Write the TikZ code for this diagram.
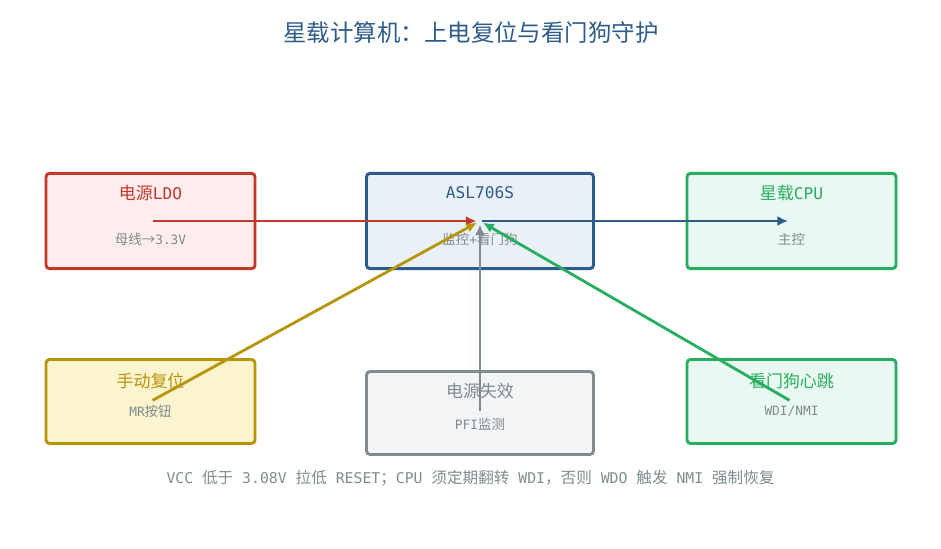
\documentclass[tikz,border=0pt]{standalone}
\usepackage{fontspec}
\setmainfont{Noto Sans CJK SC}
\newfontfamily\lat{DejaVu Sans Mono}[Scale=0.95]
\usepackage{tikz}
\usetikzlibrary{arrows,arrows.meta}

\definecolor{ldored}{HTML}{C0392B}
\definecolor{ldofill}{HTML}{FDEDEC}
\definecolor{aslblue}{HTML}{2E5C8A}
\definecolor{aslfill}{HTML}{EAF0F8}
\definecolor{cpugreen}{HTML}{27AE60}
\definecolor{cpufill}{HTML}{E9F8F0}
\definecolor{mrgold}{HTML}{B7950B}
\definecolor{mrfill}{HTML}{FCF3CF}
\definecolor{pfigray}{HTML}{7F8C8D}
\definecolor{pfifill}{HTML}{F2F4F5}

\begin{document}
\begin{tikzpicture}[x=0.03cm,y=-0.03cm,>={Latex[length=9pt,width=8.5pt]}]
\tikzstyle{blk}=[draw,line width=2.5pt,rounded corners=3pt,inner sep=0pt]
\tikzstyle{ttl}=[font=\fontsize{14.5}{16}\selectfont]
\tikzstyle{sub}=[font=\fontsize{11.5}{13}\selectfont,text=pfigray]
\tikzstyle{sig}=[->,line width=2.4pt,shorten <=2pt,shorten >=3pt]

\useasboundingbox (0,0) rectangle (941,548);

\node[font=\fontsize{20}{23}\selectfont,text=aslblue] (TITLE) at (471,33) {星载计算机：上电复位与看门狗守护};

% boxes
\node[blk,draw=ldored,fill=ldofill,minimum width=6.27cm,minimum height=2.86cm] (LDO) at (150.5,221) {};
\node[blk,draw=aslblue,fill=aslfill,minimum width=6.81cm,minimum height=2.86cm] (ASL) at (480,221) {};
\node[blk,draw=cpugreen,fill=cpufill,minimum width=6.27cm,minimum height=2.86cm] (CPU) at (791.5,221) {};
\node[blk,draw=mrgold,fill=mrfill,minimum width=6.27cm,minimum height=2.52cm] (MR) at (150.5,401.5) {};
\node[blk,draw=pfigray,fill=pfifill,minimum width=6.81cm,minimum height=2.49cm] (PFI) at (480,413) {};
\node[blk,draw=cpugreen,fill=cpufill,minimum width=6.27cm,minimum height=2.52cm] (WDI) at (791.5,401.5) {};

% texts
\node[ttl,text=ldored] (LDOt) at (150.5,193) {电源{\lat LDO}};
\node[sub] (LDOs) at (150.5,239) {母线→{\lat 3.3V}};
\node[ttl,text=aslblue] (ASLt) at (480,193) {\lat ASL706S};
\node[sub] (ASLs) at (480,239) {监控{\lat +}看门狗};
\node[ttl,text=cpugreen] (CPUt) at (791.5,193) {星载{\lat CPU}};
\node[sub] (CPUs) at (791.5,239) {主控};
\node[ttl,text=mrgold] (MRt) at (150.5,381) {手动复位};
\node[sub] (MRs) at (150.5,411) {{\lat MR}按钮};
\node[ttl,text=pfigray] (PFIt) at (480,391) {电源失效};
\node[sub] (PFIs) at (480,424) {{\lat PFI}监测};
\node[ttl,text=cpugreen] (WDIt) at (791.5,381) {看门狗心跳};
\node[sub] (WDIs) at (791.5,411) {\lat WDI/NMI};

\node[font=\fontsize{13.3}{15}\selectfont,text=pfigray] (NOTE) at (470.5,478)
  {{\lat VCC }低于{\lat{} 3.08V }拉低{\lat{} RESET}；{\lat CPU }须定期翻转{\lat{} WDI}，否则{\lat{} WDO }触发{\lat{} NMI }强制恢复};

% signals
\draw[sig,ldored] (LDO.center) -- (ASL.center);
\draw[sig,aslblue] (ASL.center) -- (CPU.center);
\draw[sig,mrgold] (MR.center) -- (ASL.center);
\draw[sig,pfigray] (PFI.center) -- (ASL.center);
\draw[sig,cpugreen] (WDI.center) -- (ASL.center);
\end{tikzpicture}
\end{document}
